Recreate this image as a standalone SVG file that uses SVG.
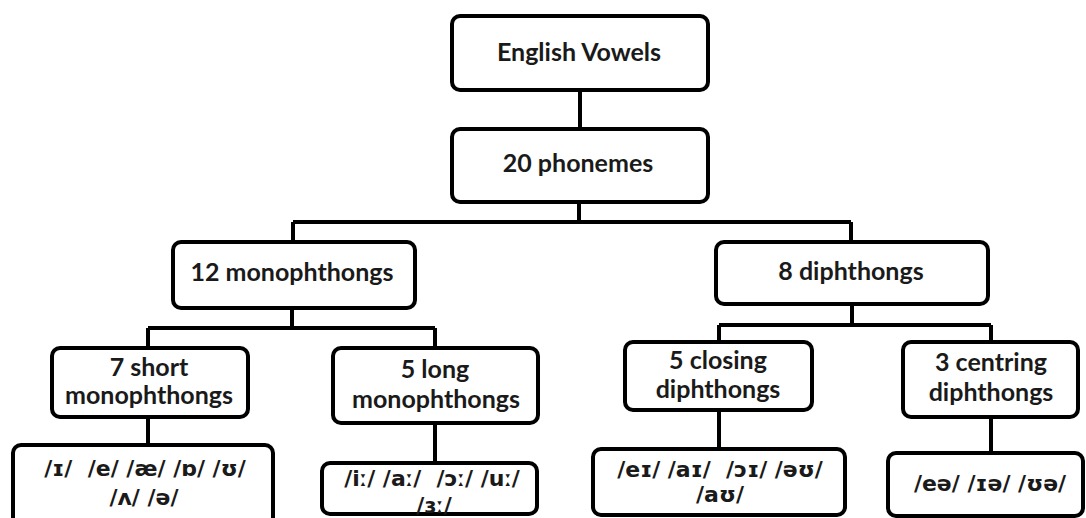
<svg xmlns="http://www.w3.org/2000/svg" width="1086" height="518" viewBox="0 0 1086 518">
<style>
.box{fill:#fff;stroke:#000;stroke-width:4}
.lbl{font-family:Lato,"Open Sans","Liberation Sans",sans-serif;font-weight:bold;font-size:25px;fill:#1a1a1a;text-anchor:middle}
.ipa{font-family:"DejaVu Sans","Noto Sans",sans-serif;font-weight:bold;font-size:22px;fill:#1a1a1a;text-anchor:middle}
.con{fill:none;stroke:#000;stroke-width:4}
</style>
<rect width="1086" height="518" fill="#fff"/>
<g id="connectors">
<path class="con" d="M580 90V129"/>
<path class="con" d="M579 202V222M293 222H851M293 222V242M851 222V242"/>
<path class="con" d="M292 308V328M148 328H435M148 328V348M435 328V348"/>
<path class="con" d="M852 304V325M719 325H991M719 325V342M991 325V342"/>
<path class="con" d="M148 417V445"/>
<path class="con" d="M435 423V463"/>
<path class="con" d="M719 410V449"/>
<path class="con" d="M991 417V453"/>
</g>
<g id="english-vowels"><rect class="box" x="452" y="16" width="256" height="74" rx="8"/><text class="lbl" x="579" y="61">English Vowels</text></g>
<g id="phonemes"><rect class="box" x="452" y="129" width="256" height="73" rx="8"/><text class="lbl" x="578" y="172">20 phonemes</text></g>
<g id="monophthongs"><rect class="box" x="173" y="242" width="242" height="66" rx="8"/><text class="lbl" x="292" y="281">12 monophthongs</text></g>
<g id="diphthongs"><rect class="box" x="716" y="242" width="272" height="62" rx="8"/><text class="lbl" x="851" y="280">8 diphthongs</text></g>
<g id="short"><rect class="box" x="52" y="348" width="196" height="69" rx="8"/><text class="lbl" x="149" y="376">7 short</text><text class="lbl" x="149" y="404">monophthongs</text></g>
<g id="long"><rect class="box" x="333" y="348" width="205" height="75" rx="8"/><text class="lbl" x="435" y="378">5 long</text><text class="lbl" x="436" y="408">monophthongs</text></g>
<g id="closing"><rect class="box" x="625" y="342" width="187" height="68" rx="8"/><text class="lbl" x="718" y="369">5 closing</text><text class="lbl" x="718" y="398">diphthongs</text></g>
<g id="centring"><rect class="box" x="903" y="342" width="175" height="75" rx="8"/><text class="lbl" x="991" y="371">3 centring</text><text class="lbl" x="991" y="401">diphthongs</text></g>
<g id="short-ipa"><rect class="box" x="13" y="445" width="260" height="80" rx="8"/><text class="ipa" x="145" y="476" xml:space="preserve">/ɪ/  /e/ /æ/ /ɒ/ /ʊ/</text><text class="ipa" x="144" y="505">/ʌ/ /ə/</text></g>
<g id="long-ipa"><rect class="box" x="322" y="463" width="215" height="51" rx="8"/><text class="ipa" x="432" y="486" xml:space="preserve">/iː/ /aː/  /ɔː/ /uː/</text><text class="ipa" x="434" y="513">/ɜː/</text></g>
<g id="closing-ipa"><rect class="box" x="593" y="449" width="252" height="66" rx="8"/><text class="ipa" x="720" y="477" xml:space="preserve">/eɪ/ /aɪ/  /ɔɪ/ /əʊ/</text><text class="ipa" x="720" y="502">/aʊ/</text></g>
<g id="centring-ipa"><rect class="box" x="888" y="453" width="195" height="63" rx="8"/><text class="ipa" x="990" y="491">/eə/ /ɪə/ /ʊə/</text></g>
</svg>
